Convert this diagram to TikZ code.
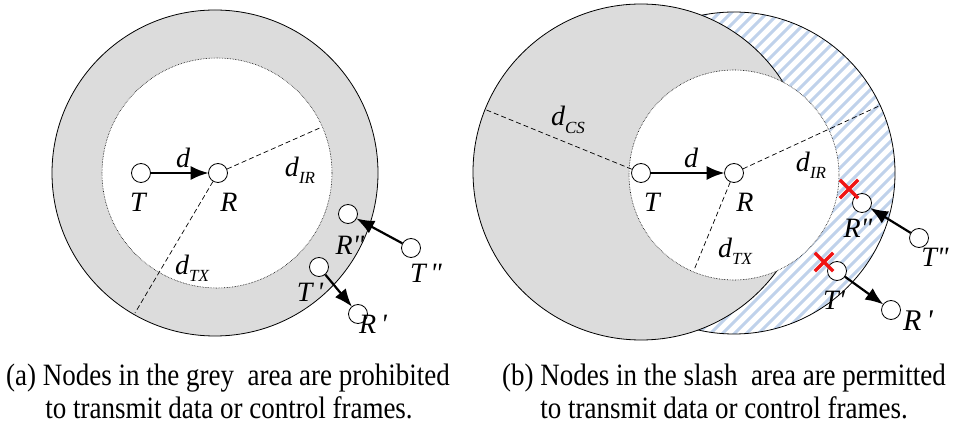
\documentclass[tikz,border=0pt]{standalone}
\usepackage{fontspec}
\setmainfont{Liberation Serif}
\usetikzlibrary{arrows.meta,shapes.misc}
\definecolor{areagrey}{RGB}{220,220,220}
\definecolor{hatchblue}{RGB}{192,210,235}
\definecolor{xred}{RGB}{240,20,20}
\newcommand\lblsize{\fontsize{28}{28}\selectfont\itshape}
\newcommand\dsub[1]{\textit{d}\raisebox{-0.26em}{\fontsize{17}{17}\selectfont\itshape #1}}
\newcommand\tallcap[1]{\scalebox{1}[1.15]{#1}}
\begin{document}
\begin{tikzpicture}[x=1pt,y=-1pt,
  station/.style={circle,draw,fill=white,line width=0.8pt,minimum size=19pt,inner sep=0pt},
  arr/.style={line width=2.2pt,-{Latex[length=18pt,width=14pt]},shorten >=-0.5pt},
  rad/.style={line width=0.7pt,dash pattern=on 5pt off 3pt},
  lbl/.style={inner sep=0pt,font=\lblsize},
  sub/.style={inner sep=0pt,font=\fontsize{28}{28}\selectfont},
  captext/.style={inner sep=0pt,anchor=base,font=\fontsize{27}{27}\selectfont},
  xmark/.style={cross out,draw=xred,line width=3.4pt,minimum size=15pt,inner sep=0pt}]
\useasboundingbox (0,0) rectangle (953,427);
\fill[white] (0,0) rectangle (953,427);
% ---------------- (a) ----------------
\draw[fill=areagrey,line width=0.8pt] (215,173) circle[radius=163];
\draw[fill=white,densely dotted,line width=0.6pt] (217,173) circle[radius=115];
\node[station] (Ta) at (141,173) {};
\node[station] (Ra) at (218,173) {};
\coordinate (irA) at (322,127);
\coordinate (txA) at (135,313);
\draw[rad] (Ra) -- (irA);
\draw[rad] (Ra) -- (txA);
\draw[arr] (Ta) -- (Ra);
\node[lbl] (dA) at (183,158) {d};
\node[lbl] (TlA) at (138,202) {T};
\node[lbl] (RlA) at (229,202) {R};
\node[sub] (dirA) at (300,170) {\dsub{IR}};
\node[sub] (dtxA) at (192,268) {\dsub{TX}};
\node[station] (R2a) at (348,214) {};
\node[station] (T2a) at (411,248) {};
\draw[arr] (T2a) -- (R2a);
\node[station] (T1a) at (319,267) {};
\node[station] (R1a) at (358,314) {};
\draw[arr] (T1a) -- (R1a);
\node[lbl] (R2lA) at (350,245) {R\textquotedbl};
\node[lbl] (T2lA) at (426,273) {T\,\textquotedbl};
\node[lbl] (T1lA) at (310,292) {T\,\textquotesingle};
\node[lbl] (R1lA) at (373,324) {R\,\textquotesingle};
% ---------------- (b) ----------------
\begin{scope}
  \clip (734,173) circle[radius=161];
  \foreach \c in {660,672,...,1150}{
    \draw[hatchblue,line width=3pt] (\c-420,420) -- (\c,0);
  }
\end{scope}
\draw[line width=0.8pt] (734,173) circle[radius=161];
\draw[fill=areagrey,line width=0.8pt] (641,172) circle[radius=168];
\draw[fill=white,densely dotted,line width=0.6pt] (734,175) circle[radius=105];
\node[station] (Tb) at (641,173) {};
\node[station] (Rb) at (734,173) {};
\coordinate (csB) at (484,109);
\coordinate (irB) at (879,106);
\coordinate (txB) at (694,270);
\draw[rad] (Tb) -- (csB);
\draw[rad] (Rb) -- (irB);
\draw[rad] (Rb) -- (txB);
\draw[arr] (Tb) -- (Rb);
\node[lbl] (dB) at (691,158) {d};
\node[lbl] (TlB) at (652,202) {T};
\node[lbl] (RlB) at (745,202) {R};
\node[sub] (dcsB) at (568,120) {\dsub{CS}};
\node[sub] (dirB) at (811,165) {\dsub{IR}};
\node[sub] (dtxB) at (735,251) {\dsub{TX}};
\node[station] (R2b) at (862,203) {};
\node[station] (T2b) at (919,238) {};
\draw[arr] (T2b) -- (R2b);
\node[station] (T1b) at (837,271) {};
\node[station] (R1b) at (891,310) {};
\draw[arr] (T1b) -- (R1b);
\node[xmark] (x2) at (849,189) {};
\node[xmark] (x1) at (824,262) {};
\node[lbl] (R2lB) at (858,228) {R\textquotedbl};
\node[lbl] (T2lB) at (935,257) {T\textquotedbl};
\node[lbl] (T1lB) at (834,300) {T\textquotesingle};
\node[lbl,font=\fontsize{30}{30}\selectfont\itshape] (R1lB) at (918,321) {R\,\textquotesingle};
% ---------------- captions ----------------
\node[captext] (ca1) at (228,385) {\tallcap{(a) Nodes in the grey\ \ area are prohibited}};
\node[captext] (ca2) at (229,418) {\tallcap{to transmit data or control frames.}};
\node[captext] (cb1) at (724,385) {\tallcap{(b) Nodes in the slash\ \ area are permitted}};
\node[captext] (cb2) at (724,418) {\tallcap{to transmit data or control frames.}};
\end{tikzpicture}
\end{document}
